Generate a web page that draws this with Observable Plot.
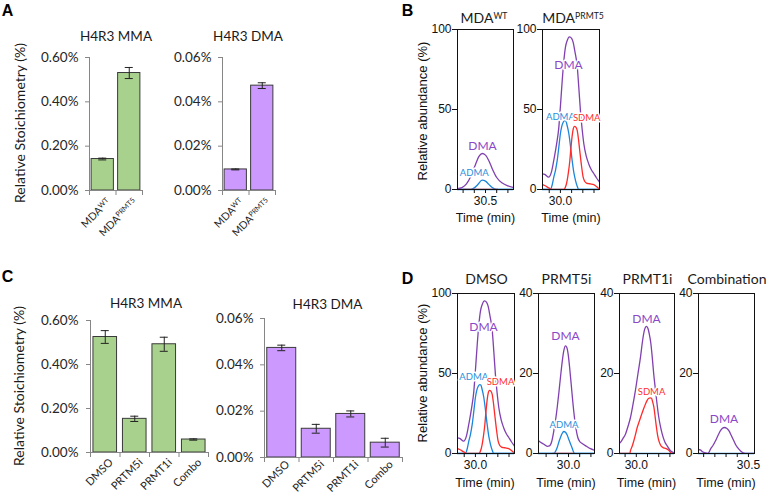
<!DOCTYPE html>
<html><head><meta charset="utf-8">
<script src="https://cdn.jsdelivr.net/npm/d3@7"></script>
<script src="https://cdn.jsdelivr.net/npm/@observablehq/plot@0.6"></script>
<style>
body{margin:0;background:#fff}
#fig{position:relative;width:768px;height:495px;overflow:hidden;background:#fff}
.lbl{position:absolute;white-space:nowrap;line-height:1}
.sup{font-size:0.62em;position:relative;top:-0.5em}
</style></head><body><div id="fig"></div><script>
// ---------- Panel A / C bar data (percent units) ----------
const aCats = ["MDA^WT", "MDA^PRMT5"];
const aMmaVals = [0.142, 0.530];
const aMmaErr  = [0.004, 0.025];
const aDmaVals = [0.0095, 0.0473];
const aDmaErr  = [0.0002, 0.0013];
const cCats = ["DMSO", "PRTM5i", "PRMT1i", "Combo"];
const cMmaVals = [0.525, 0.153, 0.492, 0.059];
const cMmaErr  = [0.029, 0.012, 0.032, 0.003];
const cDmaVals = [0.0473, 0.0124, 0.0188, 0.0064];
const cDmaErr  = [0.0012, 0.0019, 0.0013, 0.0019];
const mmaTicks = [0, 0.2, 0.4, 0.6];
const dmaTicks = [0, 0.02, 0.04, 0.06];

// ---------- Panel B / D chromatograms: [time (min), relative abundance (%)] ----------
const bWtDMA = [[30.25,0.5],[30.29,1.2],[30.33,3.5],[30.37,8.5],[30.41,15.5],[30.44,20.5],[30.47,22.5],[30.50,21.5],[30.53,18],[30.56,13],[30.60,7.5],[30.65,4],[30.70,2.3],[30.75,1.3]];
const bWtADMA = [[30.25,0],[30.37,0],[30.40,1],[30.43,3],[30.47,5.8],[30.50,5.2],[30.53,3.2],[30.56,1.2],[30.60,0],[30.75,0]];
const bWtSDMA = [[30.30,0],[30.61,0]];
const prmt5DMA = [[29.84,9.8],[29.86,9.5],[29.895,7.7],[29.92,11],[29.94,18],[29.965,28],[29.986,39],[30.0,52],[30.016,68],[30.03,80],[30.045,89],[30.06,93],[30.081,95.4],[30.1,94.5],[30.114,92],[30.13,86],[30.15,77],[30.165,63],[30.179,49],[30.195,37],[30.209,28.6],[30.23,21],[30.253,16],[30.275,12.5],[30.298,10],[30.32,7.5],[30.35,4.6]];
const prmt5ADMA = [[29.84,0],[29.91,0],[29.925,2.5],[29.941,7.7],[29.956,12],[29.971,18],[29.985,26],[30.0,35],[30.012,39.5],[30.025,42],[30.04,43],[30.048,42.8],[30.06,40],[30.075,35],[30.09,27],[30.105,18],[30.12,10.5],[30.135,5.6],[30.15,2],[30.164,0],[30.35,0]];
const prmt5SDMA = [[29.84,3],[29.86,2.5],[29.896,1],[29.926,0],[30.03,0],[30.045,1.5],[30.06,5.6],[30.072,11],[30.084,18],[30.094,26],[30.104,33],[30.115,38],[30.125,39.5],[30.138,39],[30.15,37],[30.162,31],[30.173,24],[30.188,15],[30.203,7.7],[30.218,5],[30.233,4],[30.25,3.7],[30.268,3.5],[30.298,3],[30.327,1.5],[30.349,0]];
const dPrmt5iDMA = [[29.732,3.2],[29.741,3],[29.78,2.3],[29.81,1.8],[29.83,1.9],[29.85,3],[29.869,5.7],[29.885,8.5],[29.899,11.5],[29.913,15],[29.928,19],[29.943,22.8],[29.958,25.7],[29.973,26.9],[29.985,26.5],[29.997,24.8],[30.01,21.5],[30.024,17.3],[30.038,13],[30.053,9],[30.068,6],[30.083,4],[30.1,3],[30.122,2.5],[30.16,1.8],[30.196,1.2],[30.232,0.8]];
const dPrmt5iADMA = [[29.732,0],[29.869,0],[29.885,0.6],[29.899,1.5],[29.913,2.8],[29.928,4],[29.943,5],[29.958,5.5],[29.973,5.3],[29.988,4.6],[30.003,3.5],[30.018,2.4],[30.033,1.3],[30.045,0.4],[30.053,0],[30.232,0]];
const dPrmt5iSDMA = [[29.86,0],[30.05,0]];
const dPrmt1iDMA = [[29.85,2.6],[29.859,2.8],[29.88,3.7],[29.904,4.9],[29.925,6.7],[29.948,9],[29.97,12.2],[29.993,15.9],[30.015,20],[30.038,24.2],[30.055,28],[30.073,30.9],[30.091,31.8],[30.105,31.2],[30.115,30],[30.13,27.5],[30.142,24.2],[30.155,20],[30.171,15.9],[30.186,12.2],[30.201,9],[30.216,6.7],[30.231,4.9],[30.253,3],[30.276,1.9],[30.305,0.7],[30.345,0.1]];
const dPrmt1iSDMA = [[29.85,0],[29.942,0],[29.948,0.7],[29.963,1.8],[29.978,3.2],[29.993,4.8],[30.008,6.5],[30.026,8],[30.044,9.5],[30.063,11],[30.082,12.4],[30.097,13.3],[30.112,13.8],[30.125,13.9],[30.136,13.8],[30.147,12.8],[30.157,11.6],[30.168,9.2],[30.18,6.5],[30.19,4.6],[30.201,3.2],[30.215,2.2],[30.231,1.6],[30.245,1.4],[30.26,1.3],[30.275,1.1],[30.29,0.8],[30.305,0.3],[30.314,0],[30.345,0]];
const dComboDMA = [[30.054,1],[30.07,0.9],[30.087,0.5],[30.11,0.2],[30.132,0],[30.145,0.2],[30.161,1.1],[30.183,2],[30.206,3.2],[30.228,4.5],[30.25,5.7],[30.268,6.3],[30.286,6.5],[30.305,6.3],[30.325,5.7],[30.347,4.5],[30.369,3.2],[30.39,2],[30.414,1.1],[30.444,0.3],[30.473,0],[30.554,0]];

const PURPLE = "#8040b0", BLUE = "#1a86dc", RED = "#ff2a2a";
const PURPLE_T = "#8a48c8", BLUE_T = "#2a8fdc", RED_T = "#ff3030";

const fig = document.getElementById("fig");

function addText(str, x, y, o = {}) {
  const d = document.createElement("div");
  d.className = "lbl";
  const k = str.indexOf("^");
  if (k >= 0) {
    d.append(str.slice(0, k));
    const s = document.createElement("span");
    s.className = "sup"; s.textContent = str.slice(k + 1);
    d.append(s);
  } else d.textContent = str;
  Object.assign(d.style, {
    left: x + "px", top: y + "px",
    fontSize: (o.size || 13) + "px",
    fontFamily: o.family || "Lato",
    fontWeight: o.weight || "normal",
    color: o.color || "#1a1a1a",
    transform: "translate(-50%,-50%)" + (o.rotate ? ` rotate(${o.rotate}deg)` : "")
  });
  fig.append(d);
}

function supify(svg) {
  d3.select(svg).selectAll("text, tspan").each(function () {
    if (this.children.length) return;
    const t = this.textContent, k = t.indexOf("^");
    if (k < 0) return;
    this.textContent = "";
    const s = d3.select(this);
    s.append("tspan").text(t.slice(0, k));
    s.append("tspan").attr("dy", "-0.45em").attr("font-size", "0.68em").text(t.slice(k + 1));
  });
}

function place(svg, left, top) {
  svg.style.position = "absolute";
  svg.style.left = left + "px";
  svg.style.top = top + "px";
  svg.style.overflow = "visible";
  svg.style.maxWidth = "none";
  svg.style.background = "none";
  fig.append(svg);
}

function barChart(cfg) {
  const [x0, x1, y0, y1] = cfg.frame;
  const ml = 90, mr = 10, mt = 10, mb = 70;
  const n = cfg.cats.length;
  const rows = cfg.cats.map((c, i) => ({c, i, v: cfg.vals[i], e: cfg.errs[i]}));
  const cap = 4 / ((x1 - x0) / n);
  const ymax = cfg.ticks[cfg.ticks.length - 1];
  const svg = Plot.plot({
    width: x1 - x0 + ml + mr, height: y1 - y0 + mt + mb,
    marginLeft: ml, marginRight: mr, marginTop: mt, marginBottom: mb,
    x: {type: "linear", domain: [0, n]},
    y: {type: "linear", domain: [0, ymax]},
    marks: [
      Plot.rect(rows, {x1: d => d.i + cfg.pad, x2: d => d.i + 1 - cfg.pad, y1: 0, y2: "v", fill: cfg.fill, stroke: "#3a3a3a", strokeWidth: 1}),
      Plot.ruleX(rows, {x: d => d.i + 0.5, y1: d => d.v - d.e, y2: d => d.v + d.e, stroke: "#222"}),
      Plot.ruleY(rows, {y: d => d.v + d.e, x1: d => d.i + 0.5 - cap, x2: d => d.i + 0.5 + cap, stroke: "#222"}),
      Plot.ruleY(rows, {y: d => d.v - d.e, x1: d => d.i + 0.5 - cap, x2: d => d.i + 0.5 + cap, stroke: "#222"}),
      Plot.ruleX([0], {stroke: "#868686"}),
      Plot.ruleY([0], {stroke: "#868686"}),
      Plot.axisY({ticks: cfg.ticks, tickSize: 4, tickPadding: cfg.tickPad, label: null, tickFormat: d => d.toFixed(2) + "%", stroke: "#868686", fill: "#262626", fontSize: 13.5, fontFamily: "Lato"}),
      Plot.axisX({ticks: d3.range(n + 1), tickSize: 5, label: null, tickFormat: () => "", stroke: "#868686"}),
      Plot.text(rows, {x: d => d.i + 0.5, y: 0, text: "c", rotate: -45, textAnchor: "end", dx: cfg.ldx, dy: cfg.ldy, fontSize: cfg.labelSize, fontFamily: "Lato", fill: "#262626"})
    ]
  });
  supify(svg);
  place(svg, x0 - ml, y0 - mt);
}

function chrom(cfg) {
  const [x0, x1, y0, y1] = cfg.frame;
  const ml = 45, mr = 15, mt = 10, mb = 30;
  const marks = [Plot.ruleY([0], {stroke: BLUE, strokeWidth: 1.6})];
  for (const s of cfg.series) {
    marks.push(Plot.line(s.data, {x: d => d[0], y: d => d[1], stroke: s.color, strokeWidth: 1.3, curve: "monotone-x", clip: true}));
  }
  marks.push(Plot.frame({stroke: "#111", strokeWidth: 1}));
  marks.push(Plot.axisY({ticks: cfg.yTicks, tickSize: 5, tickPadding: 1, label: null, fontSize: 12, fontFamily: "Liberation Sans", stroke: "#111", fill: "#111"}));
  marks.push(Plot.axisX({ticks: cfg.xTicks, tickSize: 4, tickPadding: 3, label: null, tickFormat: d => cfg.xLabels.includes(d) ? d.toFixed(1) : "", fontSize: 12, fontFamily: "Liberation Sans", stroke: "#111", fill: "#111"}));
  for (const l of cfg.labels) {
    marks.push(Plot.text([l], {x: "t", y: "v", text: "text", fill: l.color, fontSize: l.size, fontFamily: "Lato", stroke: "white", strokeWidth: 3, paintOrder: "stroke"}));
  }
  const svg = Plot.plot({
    width: x1 - x0 + ml + mr, height: y1 - y0 + mt + mb,
    marginLeft: ml, marginRight: mr, marginTop: mt, marginBottom: mb,
    x: {type: "linear", domain: cfg.xDomain},
    y: {type: "linear", domain: [0, cfg.yMax]},
    marks
  });
  place(svg, x0 - ml, y0 - mt);
}

// ---------- Panel A ----------
barChart({cats: aCats, vals: aMmaVals, errs: aMmaErr, ticks: mmaTicks, fill: "#a9d18e", frame: [89, 142, 57, 190], pad: 0.08, tickPad: 7, ldx: 6, ldy: 10, labelSize: 10.5});
barChart({cats: aCats, vals: aDmaVals, errs: aDmaErr, ticks: dmaTicks, fill: "#cc99ff", frame: [222, 275, 57, 190], pad: 0.08, tickPad: 7, ldx: 6, ldy: 10, labelSize: 10.5});
// ---------- Panel C ----------
barChart({cats: cCats, vals: cMmaVals, errs: cMmaErr, ticks: mmaTicks, fill: "#a9d18e", frame: [90, 208, 320, 452], pad: 0.1, tickPad: 8, ldx: 6, ldy: 8, labelSize: 11});
barChart({cats: cCats, vals: cDmaVals, errs: cDmaErr, ticks: dmaTicks, fill: "#cc99ff", frame: [264, 402, 318, 457], pad: 0.08, tickPad: 7, ldx: 6, ldy: 5, labelSize: 11});

// ---------- Panel B ----------
chrom({frame: [457, 513, 29, 189], xDomain: [30.25, 30.75], yMax: 100, yTicks: [0, 50, 100], xTicks: [30.3, 30.4, 30.5, 30.6, 30.7], xLabels: [30.5],
  series: [{data: bWtADMA, color: BLUE}, {data: bWtSDMA, color: RED}, {data: bWtDMA, color: PURPLE}],
  labels: [{t: 30.473, v: 26.9, text: "DMA", color: PURPLE_T, size: 12}, {t: 30.40, v: 10.6, text: "ADMA", color: BLUE_T, size: 9.5}]});
chrom({frame: [542, 599, 29, 189], xDomain: [29.84, 30.349], yMax: 100, yTicks: [0, 50, 100], xTicks: [29.9, 30.0, 30.1, 30.2, 30.3], xLabels: [30.0],
  series: [{data: prmt5ADMA, color: BLUE}, {data: prmt5SDMA, color: RED}, {data: prmt5DMA, color: PURPLE}],
  labels: [{t: 30.072, v: 77.5, text: "DMA", color: PURPLE_T, size: 12}, {t: 30.0, v: 45.5, text: "ADMA", color: BLUE_T, size: 9.5}, {t: 30.235, v: 45, text: "SDMA", color: RED_T, size: 9.5}]});

// ---------- Panel D ----------
chrom({frame: [457, 514, 293, 453], xDomain: [29.84, 30.349], yMax: 100, yTicks: [0, 50, 100], xTicks: [29.9, 30.0, 30.1, 30.2, 30.3], xLabels: [30.0],
  series: [{data: prmt5ADMA, color: BLUE}, {data: prmt5SDMA, color: RED}, {data: prmt5DMA, color: PURPLE}],
  labels: [{t: 30.072, v: 78.75, text: "DMA", color: PURPLE_T, size: 12}, {t: 29.985, v: 48, text: "ADMA", color: BLUE_T, size: 9.5}, {t: 30.224, v: 45, text: "SDMA", color: RED_T, size: 9.5}]});
chrom({frame: [538, 594, 293, 453], xDomain: [29.732, 30.232], yMax: 40, yTicks: [0, 20, 40], xTicks: [29.8, 29.9, 30.0, 30.1, 30.2], xLabels: [30.0],
  series: [{data: dPrmt5iADMA, color: BLUE}, {data: dPrmt5iSDMA, color: RED}, {data: dPrmt5iDMA, color: PURPLE}],
  labels: [{t: 29.973, v: 29.25, text: "DMA", color: PURPLE_T, size: 12}, {t: 29.96, v: 7.25, text: "ADMA", color: BLUE_T, size: 9.5}]});
chrom({frame: [619, 674, 293, 453], xDomain: [29.85, 30.341], yMax: 40, yTicks: [0, 20, 40], xTicks: [29.9, 30.0, 30.1, 30.2, 30.3], xLabels: [30.0],
  series: [{data: dPrmt1iSDMA, color: RED}, {data: dPrmt1iDMA, color: PURPLE}],
  labels: [{t: 30.091, v: 33.5, text: "DMA", color: PURPLE_T, size: 12}, {t: 30.136, v: 15.5, text: "SDMA", color: RED_T, size: 9.5}]});
chrom({frame: [698, 754, 293, 453], xDomain: [30.054, 30.554], yMax: 40, yTicks: [0, 20, 40], xTicks: [30.1, 30.2, 30.3, 30.4, 30.5], xLabels: [30.5],
  series: [{data: dComboDMA, color: PURPLE}],
  labels: [{t: 30.282, v: 8.5, text: "DMA", color: PURPLE_T, size: 12}]});

// ---------- Titles, axis titles, panel letters ----------
const bold = {size: 16, weight: "bold", family: "Liberation Sans", color: "#000"};
addText("A", 7.5, 11, bold);
addText("B", 407.5, 10.5, bold);
addText("C", 7.5, 276.5, bold);
addText("D", 407.5, 278.5, bold);

addText("H4R3 MMA", 116, 37, {size: 13.5});
addText("H4R3 DMA", 248, 37, {size: 13.5});
addText("Relative Stoichiometry (%)", 20, 123, {size: 14, rotate: -90});
addText("H4R3 MMA", 146, 304, {size: 13.5});
addText("H4R3 DMA", 327.5, 305, {size: 13.5});
addText("Relative Stoichiometry (%)", 19, 386, {size: 14, rotate: -90});

const ls = {family: "Liberation Sans", size: 12.5, color: "#111"};
addText("Relative abundance (%)", 421.5, 110.5, {family: "Liberation Sans", size: 13, rotate: -90, color: "#111"});
addText("MDA^WT", 484, 18, {size: 14});
addText("MDA^PRMT5", 573, 18, {size: 14});
addText("Time (min)", 485.5, 218, ls);
addText("Time (min)", 571, 218, ls);

addText("Relative abundance (%)", 421.5, 373, {family: "Liberation Sans", size: 13, rotate: -90, color: "#111"});
addText("DMSO", 486.5, 279, {size: 14});
addText("PRMT5i", 566.5, 279, {size: 14});
addText("PRMT1i", 647.5, 279, {size: 14});
addText("Combination", 727, 279, {size: 14});
addText("Time (min)", 485, 482.5, ls);
addText("Time (min)", 566, 482.5, ls);
addText("Time (min)", 646.5, 482.5, ls);
addText("Time (min)", 726, 482.5, ls);
</script></body></html>
